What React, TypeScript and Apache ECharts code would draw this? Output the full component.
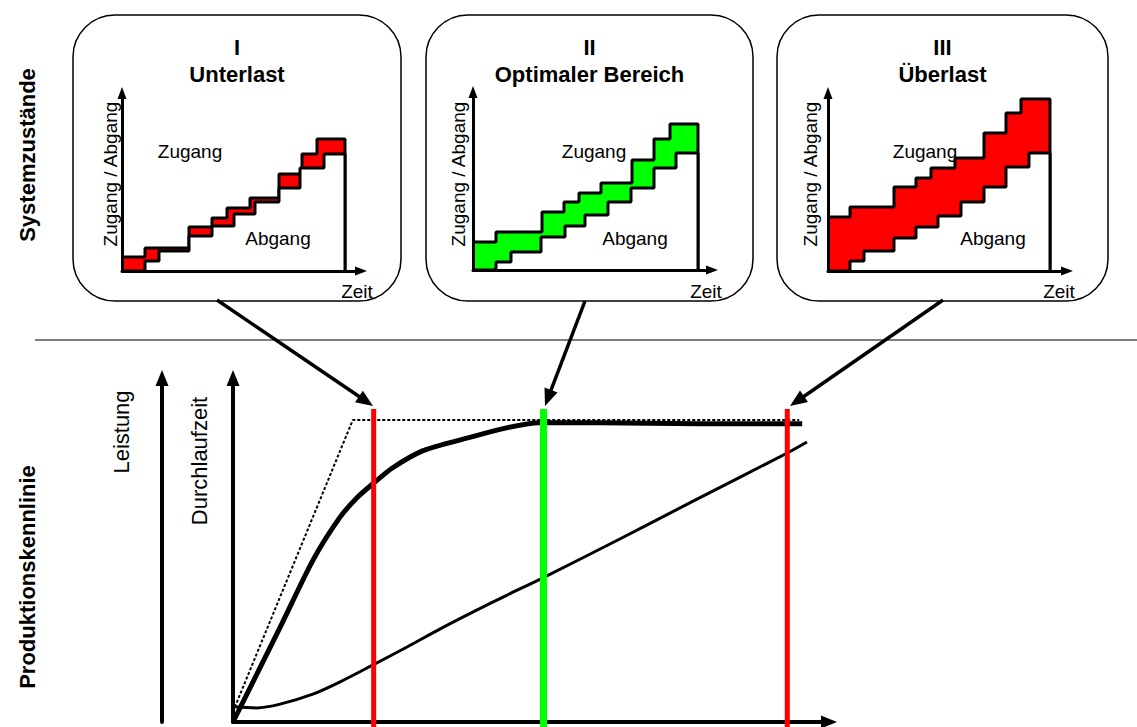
import React, { useEffect, useRef } from 'react';
import * as echarts from 'echarts';

// ---------- Produktionskennlinie (x: Bestand 0..100, y: 0..100) ----------
const leistungX = [0, 7.9, 13.4, 17.9, 20.8, 23.5, 26.8, 31.8, 37.5, 45.9, 51.4, 61.5, 78.2, 95.5];
const leistungY = [0, 27.5, 47.0, 59.4, 65.2, 69.3, 73.9, 78.8, 81.7, 85.5, 87.0, 87.0, 86.7, 86.7];
const durchlaufX = [0.3, 4.0, 7.9, 13.4, 17.9, 23.5, 29.2, 34.7, 40.3, 46.0, 52.0, 64.9, 77.2, 93.0, 96.3];
const durchlaufY = [4.4, 4.1, 5.2, 8.1, 11.6, 16.6, 21.8, 27.0, 32.0, 36.9, 41.9, 53.2, 64.2, 78.2, 81.4];
const idealX = [0.3, 20.1, 95.0];
const idealY = [4.3, 87.8, 87.8];
const stateLineX = [23.6, 52.1, 93.0];
const stateLineTop = 91;
const stateLineBottom = -1.5;
const stateLineColors = ['#ff0000', '#00ff00', '#ff0000'];

// ---------- Systemzustände (Durchlaufdiagramme) ----------
const stateNumbers = ['I', 'II', 'III'];
const stateNames = ['Unterlast', 'Optimaler Bereich', 'Überlast'];
const stateFills = ['#ff0000', '#00ff00', '#ff0000'];

const zugangT1 = [0, 23, 67, 90, 105, 128, 157, 180, 195];
const zugangV1 = [14, 23, 44, 53, 63, 73, 97, 117, 132];
const abgangT1 = [0, 23, 37, 67, 90, 112, 133, 157, 178, 202];
const abgangV1 = [0, 10, 20, 35, 45, 57, 69, 83, 103, 117];
const endT1 = 223;

const zugangT2 = [0, 23, 69, 91, 106, 128, 159, 181, 197];
const zugangV2 = [28, 38, 58, 68, 77, 87, 110, 131, 146];
const abgangT2 = [0, 23, 38, 68, 92, 112, 135, 158, 181, 203];
const abgangV2 = [0, 8, 18, 33, 44, 55, 68, 82, 102, 117];
const endT2 = 225;

const zugangT3 = [0, 22, 66, 88, 103, 127, 156, 178, 193];
const zugangV3 = [54, 64, 84, 93, 103, 113, 138, 158, 172];
const abgangT3 = [0, 22, 36, 66, 88, 110, 133, 156, 178, 201];
const abgangV3 = [0, 10, 20, 33, 44, 55, 69, 84, 104, 118];
const endT3 = 222;

const FONT = '"Liberation Sans", Arial, Helvetica, sans-serif';

function zip(xs: number[], ys: number[]) {
  return xs.map((x, i) => [x, ys[i]]);
}
function stepData(ts: number[], vs: number[], end: number) {
  return [...zip(ts, vs), [end, 0]];
}

function txt(text: string, x: number, y: number, size: number, bold: boolean, rotate = false) {
  return {
    type: 'text',
    x,
    y,
    rotation: rotate ? Math.PI / 2 : 0,
    z: 40,
    style: {
      text,
      font: `${bold ? 'bold ' : ''}${size}px ${FONT}`,
      fill: '#000',
      align: 'center',
      verticalAlign: 'middle',
      textAlign: 'center',
      textVerticalAlign: 'middle',
    },
  };
}

function arrowEls(x1: number, y1: number, x2: number, y2: number, lw: number, hl: number, hw: number) {
  const dx = x2 - x1;
  const dy = y2 - y1;
  const len = Math.hypot(dx, dy);
  const ux = dx / len;
  const uy = dy / len;
  const bx = x2 - ux * hl;
  const by = y2 - uy * hl;
  const px = -uy;
  const py = ux;
  return [
    {
      type: 'line',
      z: 30,
      shape: { x1, y1, x2: bx + ux * 2, y2: by + uy * 2 },
      style: { stroke: '#000', lineWidth: lw },
    },
    {
      type: 'polygon',
      z: 30,
      shape: {
        points: [
          [x2, y2],
          [bx + (px * hw) / 2, by + (py * hw) / 2],
          [bx - (px * hw) / 2, by - (py * hw) / 2],
        ],
      },
      style: { fill: '#000' },
    },
  ];
}

export default function App() {
  const ref = useRef<HTMLDivElement>(null);

  useEffect(() => {
    if (!ref.current) return;
    const chart = echarts.init(ref.current, undefined, { renderer: 'svg' });

    const boxLeft = [73, 426, 777];
    const boxWidth = [328, 327, 331];
    const smallLeft = [122, 473, 828];
    const smallBottom = [271, 270, 271];
    const smallW = 239;
    const smallH = 178;

    const zugang = [
      stepData(zugangT1, zugangV1, endT1),
      stepData(zugangT2, zugangV2, endT2),
      stepData(zugangT3, zugangV3, endT3),
    ];
    const abgang = [
      stepData(abgangT1, abgangV1, endT1),
      stepData(abgangT2, abgangV2, endT2),
      stepData(abgangT3, abgangV3, endT3),
    ];

    const grids: any[] = [{ left: 233, top: 378, width: 596, height: 344 }];
    const xAxes: any[] = [
      {
        type: 'value', gridIndex: 0, min: 0, max: 100,
        axisLine: { show: true, onZero: false, symbol: ['none', 'triangle'], symbolSize: [13, 16], lineStyle: { color: '#000', width: 4 } },
        axisTick: { show: false }, axisLabel: { show: false }, splitLine: { show: false },
      },
    ];
    const yAxes: any[] = [
      {
        type: 'value', gridIndex: 0, min: 0, max: 100, position: 'left',
        axisLine: { show: true, onZero: false, symbol: ['none', 'triangle'], symbolSize: [13, 16], lineStyle: { color: '#000', width: 4 } },
        axisTick: { show: false }, axisLabel: { show: false }, splitLine: { show: false },
      },
      {
        type: 'value', gridIndex: 0, min: 0, max: 100, position: 'left', offset: 71,
        axisLine: { show: true, onZero: false, symbol: ['none', 'triangle'], symbolSize: [13, 16], lineStyle: { color: '#000', width: 4 } },
        axisTick: { show: false }, axisLabel: { show: false }, splitLine: { show: false },
      },
    ];
    const series: any[] = [
      {
        type: 'line', xAxisIndex: 0, yAxisIndex: 0, data: zip(idealX, idealY), symbol: 'none',
        lineStyle: { color: '#000', width: 2, type: [3, 2] }, z: 3,
      },
      {
        type: 'line', xAxisIndex: 0, yAxisIndex: 0, data: zip(leistungX, leistungY), symbol: 'none',
        smooth: 0.25, lineStyle: { color: '#000', width: 5 }, z: 4,
      },
      {
        type: 'line', xAxisIndex: 0, yAxisIndex: 0, data: zip(durchlaufX, durchlaufY), symbol: 'none',
        smooth: 0.3, lineStyle: { color: '#000', width: 3 }, z: 4,
      },
    ];
    stateLineX.forEach((x, i) => {
      series.push({
        type: 'line', xAxisIndex: 0, yAxisIndex: 0, symbol: 'none', clip: false,
        data: [[x, stateLineBottom], [x, stateLineTop]],
        lineStyle: { color: stateLineColors[i], width: i === 1 ? 7 : 5, cap: 'butt' }, z: 6,
      });
    });

    for (let i = 0; i < 3; i++) {
      grids.push({ left: smallLeft[i], top: smallBottom[i] - smallH, width: smallW, height: smallH });
      xAxes.push({
        type: 'value', gridIndex: i + 1, min: 0, max: smallW, z: 10,
        axisLine: { show: true, onZero: false, symbol: ['none', 'triangle'], symbolSize: [9, 12], lineStyle: { color: '#000', width: 3 } },
        axisTick: { show: false }, axisLabel: { show: false }, splitLine: { show: false },
      });
      yAxes.push({
        type: 'value', gridIndex: i + 1, min: 0, max: smallH, z: 10,
        axisLine: { show: true, onZero: false, symbol: ['none', 'triangle'], symbolSize: [9, 12], lineStyle: { color: '#000', width: 3 } },
        axisTick: { show: false }, axisLabel: { show: false }, splitLine: { show: false },
      });
      series.push({
        type: 'line', xAxisIndex: i + 1, yAxisIndex: i + 2, step: 'end', symbol: 'none', data: zugang[i],
        lineStyle: { color: '#000', width: 3 }, areaStyle: { color: stateFills[i], opacity: 1 }, z: 2,
      });
      series.push({
        type: 'line', xAxisIndex: i + 1, yAxisIndex: i + 2, step: 'end', symbol: 'none', data: abgang[i],
        lineStyle: { color: '#000', width: 3 }, areaStyle: { color: '#ffffff', opacity: 1 }, z: 3,
      });
    }

    const graphic: any[] = [];
    // rounded boxes
    for (let i = 0; i < 3; i++) {
      graphic.push({
        type: 'rect', z: 0,
        shape: { x: boxLeft[i], y: 15, width: boxWidth[i], height: 286, r: 42 },
        style: { fill: 'none', stroke: '#000', lineWidth: 1.5 },
      });
      const cx = boxLeft[i] + boxWidth[i] / 2;
      graphic.push(txt(stateNumbers[i], cx, 47, 22, true));
      graphic.push(txt(stateNames[i], cx, 74, 22, true));
    }
    const axisNameX = [110, 458, 810];
    const zugangPos = [[190, 151], [594, 151], [925, 151]];
    const abgangPos = [[278, 238], [635, 238], [993, 238]];
    const zeitPos = [[357, 291], [706, 291], [1059, 291]];
    for (let i = 0; i < 3; i++) {
      graphic.push(txt('Zugang / Abgang', axisNameX[i], 174, 19, false, true));
      graphic.push(txt('Zugang', zugangPos[i][0], zugangPos[i][1], 19, false));
      graphic.push(txt('Abgang', abgangPos[i][0], abgangPos[i][1], 19, false));
      graphic.push(txt('Zeit', zeitPos[i][0], zeitPos[i][1], 19, false));
    }
    // separator
    graphic.push({
      type: 'line', z: 0,
      shape: { x1: 35, y1: 340, x2: 1137, y2: 340 },
      style: { stroke: '#000', lineWidth: 1 },
    });
    // side labels
    graphic.push(txt('Systemzustände', 27, 155, 22, true, true));
    graphic.push(txt('Produktionskennlinie', 27, 577, 22, true, true));
    graphic.push(txt('Leistung', 121, 432, 22, false, true));
    graphic.push(txt('Durchlaufzeit', 199, 461, 22, false, true));
    // arrows from boxes to operating points
    graphic.push(...arrowEls(217, 300, 373, 406, 3.5, 17, 14));
    graphic.push(...arrowEls(585, 301, 545, 406, 3.5, 17, 14));
    graphic.push(...arrowEls(943, 300, 790, 406, 3.5, 17, 14));

    chart.setOption({
      animation: false,
      backgroundColor: '#ffffff',
      grid: grids,
      xAxis: xAxes,
      yAxis: yAxes,
      series,
      graphic,
    });

    return () => {
      chart.dispose();
    };
  }, []);

  return (
    <div
      ref={ref}
      style={{ position: 'absolute', left: 0, top: 0, width: 1137, height: 727 }}
    />
  );
}
